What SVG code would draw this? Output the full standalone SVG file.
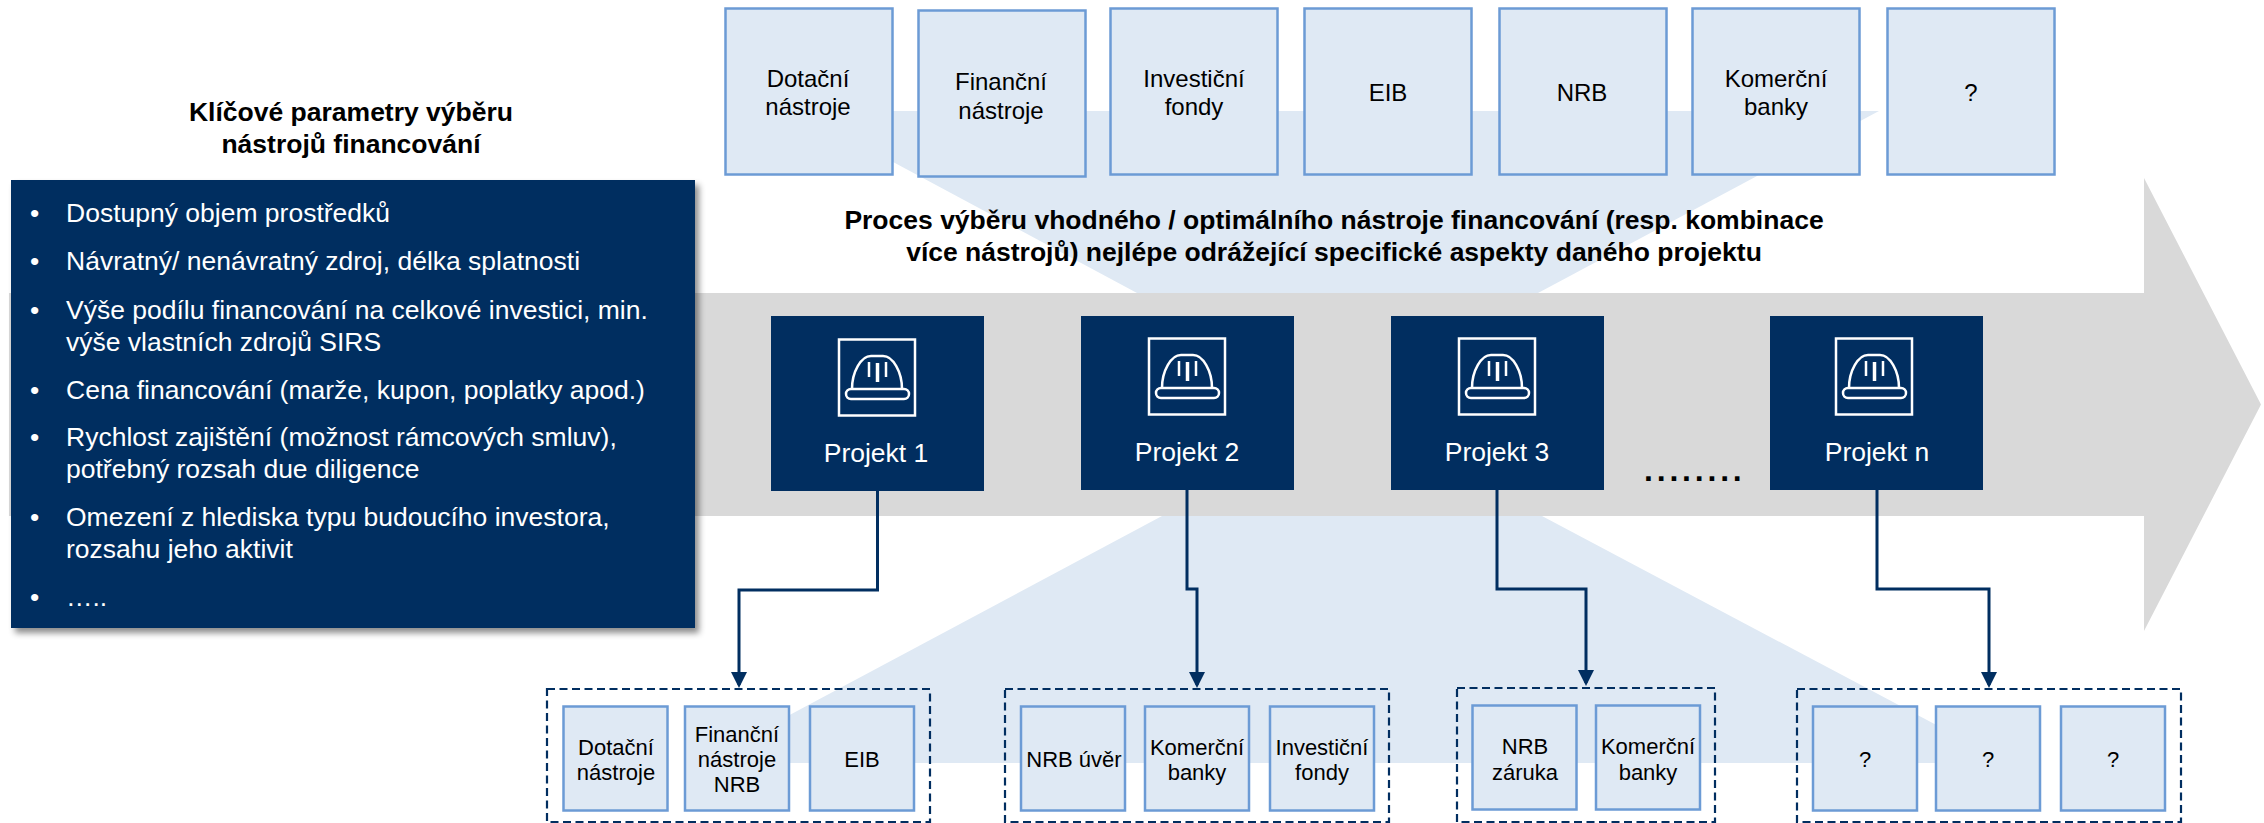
<svg xmlns="http://www.w3.org/2000/svg" width="2264" height="823" viewBox="0 0 2264 823">
<defs>
<style>
text{font-family:"Liberation Sans",Arial,sans-serif;fill:#000}
.b{fill:#dfe9f4;stroke:#6c9bd5;stroke-width:2.5}
.t{font-size:24px;text-anchor:middle}
.s{font-size:22px;text-anchor:middle}
.h{font-size:26.5px;font-weight:bold;text-anchor:middle}
.p{fill:#012e60}
.w{fill:#fff;font-size:26.5px}
.c{font-size:26.5px;fill:#fff;text-anchor:middle}
.d{fill:none;stroke:#012e60;stroke-width:2.2;stroke-dasharray:8 4.5}
.conn{fill:none;stroke:#012e60;stroke-width:3}
.ic{fill:none;stroke:#fff;stroke-width:2.5}
</style>
<marker id="ah" markerUnits="userSpaceOnUse" markerWidth="18" markerHeight="16" refX="13" refY="8" orient="auto"><path d="M0 0L16 8L0 16Z" fill="#012e60"/></marker>
<filter id="sh" x="-5%" y="-5%" width="112%" height="112%"><feDropShadow dx="4" dy="5" stdDeviation="3" flood-color="#000" flood-opacity=".45"/></filter>
<g id="helmet"><rect class="ic" x="-38" y="-38.500" width="76" height="76"/><path class="ic" d="M-25 11C-25 -6 -16 -22 -6 -22H6C16 -22 25 -6 25 11M-8 -16V-1M9 -16V-1"/><path d="M0.500 -15V4" stroke="#fff" stroke-width="3.500" fill="none"/><rect class="ic" x="-31" y="11" width="63" height="10" rx="5"/></g>
</defs>
<polygon id="bg-top" fill="#dfe9f4" points="798,111 1879,111 1538,293 1137,293"/>
<polygon id="bg-bottom" fill="#dfe9f4" points="1162,516 1542,516 2008,763 700,763"/>
<polygon id="arrow" fill="#d9d9d9" points="9,293 2144,293 2144,178 2261,404.500 2144,631 2144,516 9,516"/>
<g id="top-1"><rect class="b" x="725.500" y="8.500" width="167" height="166"/><text class="t" x="808" y="87">Dotační</text><text class="t" x="808" y="115">nástroje</text></g>
<g id="top-2"><rect class="b" x="918.500" y="10.500" width="167" height="166"/><text class="t" x="1001" y="90">Finanční</text><text class="t" x="1001" y="119">nástroje</text></g>
<g id="top-3"><rect class="b" x="1110.500" y="8.500" width="167" height="166"/><text class="t" x="1194" y="87">Investiční</text><text class="t" x="1194" y="115">fondy</text></g>
<g id="top-4"><rect class="b" x="1304.500" y="8.500" width="167" height="166"/><text class="t" x="1388" y="101">EIB</text></g>
<g id="top-5"><rect class="b" x="1499.500" y="8.500" width="167" height="166"/><text class="t" x="1582" y="101">NRB</text></g>
<g id="top-6"><rect class="b" x="1692.500" y="8.500" width="167" height="166"/><text class="t" x="1776" y="87">Komerční</text><text class="t" x="1776" y="115">banky</text></g>
<g id="top-7"><rect class="b" x="1887.500" y="8.500" width="167" height="166"/><text class="t" x="1971" y="101">?</text></g>
<text class="h" x="351" y="121">Klíčové parametry výběru</text>
<text class="h" x="351" y="153">nástrojů financování</text>
<text class="h" x="1334" y="229">Proces výběru vhodného / optimálního nástroje financování (resp. kombinace</text>
<text class="h" x="1334" y="261">více nástrojů) nejlépe odrážející specifické aspekty daného projektu</text>
<g id="params"><rect class="p" x="11" y="180" width="684" height="448" filter="url(#sh)"/>
<g class="w">
<text class="w" x="30" y="222">•</text><text class="w" x="66" y="222">Dostupný objem prostředků</text>
<text class="w" x="30" y="270">•</text><text class="w" x="66" y="270">Návratný/ nenávratný zdroj, délka splatnosti</text>
<text class="w" x="30" y="319">•</text><text class="w" x="66" y="319">Výše podílu financování na celkové investici, min.</text><text class="w" x="66" y="351">výše vlastních zdrojů SIRS</text>
<text class="w" x="30" y="399">•</text><text class="w" x="66" y="399">Cena financování (marže, kupon, poplatky apod.)</text>
<text class="w" x="30" y="446">•</text><text class="w" x="66" y="446">Rychlost zajištění (možnost rámcových smluv),</text><text class="w" x="66" y="478">potřebný rozsah due diligence</text>
<text class="w" x="30" y="526">•</text><text class="w" x="66" y="526">Omezení z hlediska typu budoucího investora,</text><text class="w" x="66" y="558">rozsahu jeho aktivit</text>
<text class="w" x="30" y="606">•</text><text class="w" x="66" y="606">…..</text>
</g></g>
<g id="project-1"><rect class="p" x="771" y="316" width="213" height="175"/><use href="#helmet" x="877" y="378"/><text class="c" x="876" y="462">Projekt 1</text></g>
<g id="project-2"><rect class="p" x="1081" y="316" width="213" height="174"/><use href="#helmet" x="1187" y="377"/><text class="c" x="1187" y="461">Projekt 2</text></g>
<g id="project-3"><rect class="p" x="1391" y="316" width="213" height="174"/><use href="#helmet" x="1497" y="377"/><text class="c" x="1497" y="461">Projekt 3</text></g>
<g id="project-n"><rect class="p" x="1770" y="316" width="213" height="174"/><use href="#helmet" x="1874" y="377"/><text class="c" x="1877" y="461">Projekt n</text></g>
<text id="dots" x="1644" y="481" font-size="32" font-weight="bold" letter-spacing="3.800">........</text>
<g id="connectors">
<path class="conn" marker-end="url(#ah)" d="M877.500 491V590H739V685"/>
<path class="conn" marker-end="url(#ah)" d="M1187 490V589H1197V685"/>
<path class="conn" marker-end="url(#ah)" d="M1497 490V589H1586V683"/>
<path class="conn" marker-end="url(#ah)" d="M1877 490V589H1989V685"/>
</g>
<g id="group-1"><rect class="d" x="547" y="689" width="383" height="133"/>
<g id="g1-1"><rect class="b" x="563.500" y="706.500" width="104" height="104"/><text class="s" x="616" y="755">Dotační</text><text class="s" x="616" y="780">nástroje</text></g>
<g id="g1-2"><rect class="b" x="685" y="706.500" width="104" height="104"/><text class="s" x="737" y="742">Finanční</text><text class="s" x="737" y="767">nástroje</text><text class="s" x="737" y="792">NRB</text></g>
<g id="g1-3"><rect class="b" x="810" y="706.500" width="104" height="104"/><text class="s" x="862" y="767">EIB</text></g></g>
<g id="group-2"><rect class="d" x="1005" y="689" width="384" height="133"/>
<g id="g2-1"><rect class="b" x="1021" y="706.500" width="104" height="104"/><text class="s" x="1074" y="767">NRB úvěr</text></g>
<g id="g2-2"><rect class="b" x="1145" y="706.500" width="104" height="104"/><text class="s" x="1197" y="755">Komerční</text><text class="s" x="1197" y="780">banky</text></g>
<g id="g2-3"><rect class="b" x="1270" y="706.500" width="104" height="104"/><text class="s" x="1322" y="755">Investiční</text><text class="s" x="1322" y="780">fondy</text></g></g>
<g id="group-3"><rect class="d" x="1457" y="688" width="258" height="134"/>
<g id="g3-1"><rect class="b" x="1472.500" y="705.500" width="104" height="104"/><text class="s" x="1525" y="754">NRB</text><text class="s" x="1525" y="780">záruka</text></g>
<g id="g3-2"><rect class="b" x="1596" y="705.500" width="104" height="104"/><text class="s" x="1648" y="754">Komerční</text><text class="s" x="1648" y="780">banky</text></g></g>
<g id="group-4"><rect class="d" x="1797" y="689" width="384" height="133"/>
<g id="g4-1"><rect class="b" x="1813" y="706.500" width="104" height="104"/><text class="s" x="1865" y="767">?</text></g>
<g id="g4-2"><rect class="b" x="1936" y="706.500" width="104" height="104"/><text class="s" x="1988" y="767">?</text></g>
<g id="g4-3"><rect class="b" x="2061" y="706.500" width="104" height="104"/><text class="s" x="2113" y="767">?</text></g></g>
</svg>
